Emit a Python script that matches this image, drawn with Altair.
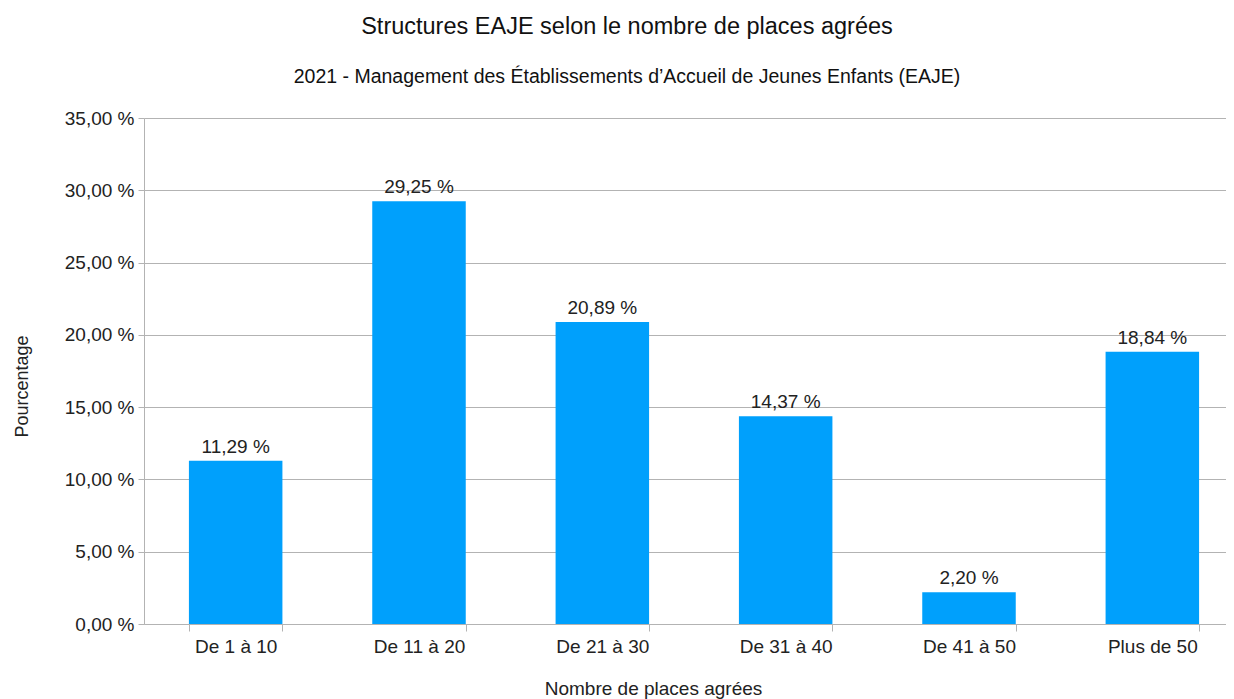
import altair as alt
import pandas as pd

categories = ["De 1 à 10", "De 11 à 20", "De 21 à 30", "De 31 à 40", "De 41 à 50", "Plus de 50"]
values = [11.29, 29.25, 20.89, 14.37, 2.20, 18.84]
y_ticks = [0, 5, 10, 15, 20, 25, 30, 35]

df = pd.DataFrame({"cat": categories, "val": values})
df["label"] = [f"{v:.2f}".replace(".", ",") + " %" for v in values]

FONT = "Liberation Sans"
GRAY = "#b3b3b3"
TXT = "#222222"

x_enc = alt.X(
    "cat:N", sort=categories,
    scale=alt.Scale(paddingInner=0.49, paddingOuter=0.245, range=[0, 1100]),
    axis=alt.Axis(
        title="Nombre de places agrées", labelAngle=0, labelFontSize=19, labelFont=FONT,
        labelColor=TXT, labelPadding=6, tickBand="extent", tickSize=7, tickColor=GRAY,
        domainColor=GRAY, titleFont=FONT, titleFontSize=19, titleFontWeight="normal",
        titleColor=TXT, titleX=509, titleY=70, titleBaseline="alphabetic", titleAlign="center",
    ),
)
y_enc = alt.Y(
    "val:Q",
    scale=alt.Scale(domain=[0, 35], nice=False),
    axis=alt.Axis(
        title="Pourcentage", values=y_ticks,
        labelExpr="replace(format(datum.value, '.2f'), '.', ',') + ' %'",
        labelFontSize=19, labelFont=FONT, labelColor=TXT, labelPadding=4,
        tickSize=6, tickColor=GRAY, domainColor=GRAY, gridColor=GRAY,
        titleFont=FONT, titleFontSize=18, titleFontWeight="normal", titleColor=TXT,
        titleAngle=270, titleX=-122, titleY=268, titleBaseline="middle", titleAlign="center",
    ),
)

bars = alt.Chart(df).mark_bar(color="#00a0fc").encode(x=x_enc, y=y_enc)
labels = alt.Chart(df).mark_text(
    baseline="alphabetic", dy=-8, fontSize=19, font=FONT, color=TXT
).encode(x=alt.X("cat:N", sort=categories), y="val:Q", text="label:N")

chart = (bars + labels).properties(
    width=1082, height=506,
    autosize=alt.AutoSizeParams(type="none"),
    padding={"left": 136, "top": 110, "right": 0, "bottom": 75},
    title=alt.TitleParams(
        text="Structures EAJE selon le nombre de places agrées",
        subtitle="2021 - Management des Établissements d’Accueil de Jeunes Enfants (EAJE)",
        font=FONT, fontSize=23.5, fontWeight="normal", color="#111111",
        subtitleFont=FONT, subtitleFontSize=19.5, subtitleColor="#111111",
        subtitlePadding=29, offset=23, anchor="middle", dx=-58,
    ),
).configure_view(stroke=None).configure_axisX(grid=False)

chart.save("out.html", embed_options={"renderer": "svg", "actions": False})
